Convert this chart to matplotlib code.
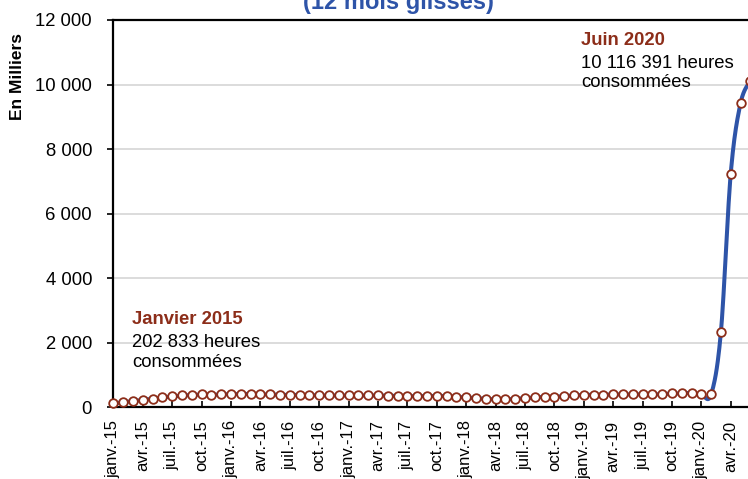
import numpy as np
import matplotlib
matplotlib.use("Agg")
import matplotlib.pyplot as plt

plt.rcParams['font.family'] = ['Liberation Sans', 'DejaVu Sans']

# monthly hours consumed (12 rolling months), in thousands, janv.-15 -> juin-20
hours_2015 = [118, 158, 189, 230, 261, 304, 335, 366, 376, 398, 385, 398]
hours_2016 = [407, 407, 416, 398, 398, 385, 385, 385, 376, 366, 366, 366]
hours_2017 = [366, 366, 366, 366, 354, 354, 345, 345, 345, 354, 345, 323]
hours_2018 = [304, 283, 261, 242, 242, 261, 283, 304, 323, 323, 345, 366]
hours_2019 = [385, 385, 385, 398, 398, 398, 398, 398, 407, 428, 428, 447]
hours_2020 = [398, 398, 2335, 7234, 9417, 10116]

month_names = ["janv.", "avr.", "juil.", "oct."]
years = ["15", "16", "17", "18", "19", "20"]

values = hours_2015 + hours_2016 + hours_2017 + hours_2018 + hours_2019 + hours_2020
x = np.arange(len(values))
y = np.array(values, dtype=float)

tick_pos = list(range(0, len(values), 3))
tick_labels = []
for yr in years:
    for m in month_names:
        tick_labels.append(m + "-" + yr)
tick_labels = tick_labels[:len(tick_pos)]

red = "#8C2D19"
blue = "#2E54A8"


# smoothed line like the spreadsheet one (bezier through each point)
def smooth(xs, ys, n=20):
    px = np.concatenate([[xs[0]], xs, [xs[-1]]])
    py = np.concatenate([[ys[0]], ys, [ys[-1]]])
    out_x, out_y = [], []
    t = np.linspace(0, 1, n)
    for i in range(1, len(px) - 2):
        p0x, p1x, p2x, p3x = px[i - 1], px[i], px[i + 1], px[i + 2]
        p0y, p1y, p2y, p3y = py[i - 1], py[i], py[i + 1], py[i + 2]
        c1x, c1y = p1x + (p2x - p0x) / 6, p1y + (p2y - p0y) / 6
        c2x, c2y = p2x - (p3x - p1x) / 6, p2y - (p3y - p1y) / 6
        bx = (1 - t) ** 3 * p1x + 3 * (1 - t) ** 2 * t * c1x + 3 * (1 - t) * t ** 2 * c2x + t ** 3 * p2x
        by = (1 - t) ** 3 * p1y + 3 * (1 - t) ** 2 * t * c1y + 3 * (1 - t) * t ** 2 * c2y + t ** 3 * p2y
        out_x.extend(bx)
        out_y.extend(by)
    return out_x, out_y


fig = plt.figure(figsize=(7.48, 4.79), dpi=100)
ax = fig.add_axes([0.1515, 0.1497, 0.8647, 0.8086])

sx, sy = smooth(x, y)
ax.plot(sx, sy, color=blue, linewidth=2.9, zorder=2, clip_on=False)
ax.plot(x, y, linestyle="none", marker="o", markersize=6.2, markerfacecolor="white",
        markeredgecolor=red, markeredgewidth=1.3, zorder=3, clip_on=False)

ax.set_xlim(0, 66)
ax.set_ylim(0, 12000)
ax.set_yticks(range(0, 12001, 2000))
ax.set_yticklabels([f"{v:,}".replace(",", " ") for v in range(0, 12001, 2000)], fontsize=13.3)
ax.set_xticks(tick_pos)
ax.set_xticklabels(tick_labels, rotation=90, fontsize=12, va="top", ha="center")

ax.grid(axis="y", color="#D9D9D9", linewidth=1.3)
ax.set_axisbelow(True)
ax.tick_params(axis="y", direction="out", length=4.3, width=1.2, pad=11)
ax.tick_params(axis="x", direction="in", length=4, width=1.2, pad=9.5)

for side in ["left", "bottom", "top"]:
    ax.spines[side].set_linewidth(1.6)
    ax.spines[side].set_color("black")
ax.spines["right"].set_visible(False)

# y axis title
fig.text(18 / 748, 1 - 77 / 479, "En Milliers", fontsize=12.5, fontweight="bold",
         rotation=90, ha="center", va="center")

# title (top part cut off in the source)
fig.text(0.533, 1 - 9.5 / 479, "(12 mois glissés)", color=blue, fontsize=17,
         fontweight="bold", ha="center", va="baseline")

# annotations
def note(px, base_y, title, line2):
    fig.text(px / 748, 1 - base_y[0] / 479, title, color=red, fontsize=13.3,
             fontweight="bold", va="baseline")
    fig.text(px / 748, 1 - base_y[1] / 479, line2, color="black", fontsize=13.3, va="baseline")
    fig.text(px / 748, 1 - base_y[2] / 479, "consommées", color="black", fontsize=13.3, va="baseline")


note(132, (324, 347, 367), "Janvier 2015", "202 833 heures")
note(581, (44.7, 68.5, 87), "Juin 2020", "10 116 391 heures")

fig.savefig("out.png", dpi=100)
